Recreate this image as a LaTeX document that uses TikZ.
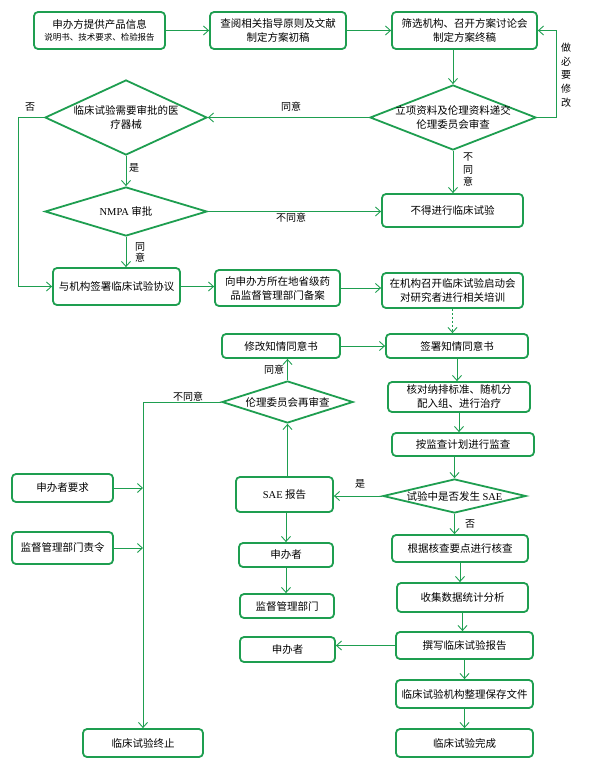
\documentclass[tikz,border=0pt]{standalone}
\usepackage{fontspec}
\setmainfont{Noto Sans CJK SC}
\newfontfamily\latin{Liberation Serif}
\usetikzlibrary{arrows.meta, shapes.geometric}
\definecolor{lgreen}{RGB}{30,158,80}

\begin{document}
\begin{tikzpicture}[x=1pt, y=-1pt,
	flowbox/.style={draw=lgreen, line width=1.8pt, rounded corners=4pt, fill=white, align=center, inner sep=0pt, font=\fontsize{10.5}{14}\selectfont},
	flowdia/.style={diamond, draw=lgreen, line width=1.8pt, fill=white, inner sep=0pt},
	diatext/.style={align=center, inner sep=0pt, font=\fontsize{10.5}{14}\selectfont},
	link/.style={draw=lgreen, line width=0.9pt, -{Straight Barb[length=5pt,width=9pt]}},
	note/.style={inner sep=0pt, align=center, font=\fontsize{10}{12}\selectfont}]
	\useasboundingbox (0,0) rectangle (589,768);

	\node[flowbox, minimum width=131pt, minimum height=37pt] (A) at (99.5,30.5) {申办方提供产品信息\\[-2pt]{\fontsize{8.5}{11}\selectfont 说明书、技术要求、检验报告}};
	\node[flowbox, minimum width=136pt, minimum height=37pt] (B) at (278,30.5) {查阅相关指导原则及文献\\制定方案初稿};
	\node[flowbox, minimum width=145pt, minimum height=37pt] (C) at (464.5,30.5) {筛选机构、召开方案讨论会\\制定方案终稿};
	\node[flowdia, minimum width=166pt, minimum height=65pt] (D) at (453,117.5) {};
	\node[diatext] (Dt) at (D) {立项资料及伦理资料递交\\伦理委员会审查};
	\node[flowdia, minimum width=162pt, minimum height=75pt] (E) at (126,117.5) {};
	\node[diatext] (Et) at (E) {临床试验需要审批的医\\疗器械};
	\node[flowdia, minimum width=162pt, minimum height=49pt] (NMPA) at (126,211.5) {};
	\node[diatext] (NMPAt) at (NMPA) {{\latin NMPA} 审批};
	\node[flowbox, minimum width=141pt, minimum height=33pt] (G) at (452.5,210.5) {不得进行临床试验};
	\node[flowbox, minimum width=127pt, minimum height=37pt] (F) at (116.5,286.5) {与机构签署临床试验协议};
	\node[flowbox, minimum width=125pt, minimum height=36pt] (H) at (277.5,288) {向申办方所在地省级药\\品监督管理部门备案};
	\node[flowbox, minimum width=141pt, minimum height=35pt] (I) at (452.5,290.5) {在机构召开临床试验启动会\\对研究者进行相关培训};
	\node[flowbox, minimum width=142pt, minimum height=24pt] (J) at (457,346) {签署知情同意书};
	\node[flowbox, minimum width=118pt, minimum height=24pt] (K) at (281,346) {修改知情同意书};
	\node[flowbox, minimum width=142pt, minimum height=30pt] (L) at (459,397) {核对纳排标准、随机分\\配入组、进行治疗};
	\node[flowbox, minimum width=142pt, minimum height=23pt] (M) at (463,444.5) {按监查计划进行监查};
	\node[flowdia, minimum width=143pt, minimum height=34pt] (N) at (454.5,496) {};
	\node[diatext] (Nt) at (N) {试验中是否发生 {\latin SAE}};
	\node[flowbox, minimum width=97pt, minimum height=35pt] (O) at (284.5,494.5) {{\latin SAE} 报告};
	\node[flowdia, minimum width=131pt, minimum height=42pt] (P) at (287.5,402) {};
	\node[diatext] (Pt) at (P) {伦理委员会再审查};
	\node[flowbox, minimum width=101pt, minimum height=28pt] (R) at (62.5,488) {申办者要求};
	\node[flowbox, minimum width=101pt, minimum height=32pt] (S) at (62.5,548) {监督管理部门责令};
	\node[flowbox, minimum width=94pt, minimum height=24pt] (T) at (286,555) {申办者};
	\node[flowbox, minimum width=94pt, minimum height=24pt] (U) at (287,606) {监督管理部门};
	\node[flowbox, minimum width=136pt, minimum height=27pt] (V) at (460,548.5) {根据核查要点进行核查};
	\node[flowbox, minimum width=131pt, minimum height=29pt] (W) at (462.5,597.5) {收集数据统计分析};
	\node[flowbox, minimum width=137pt, minimum height=27pt] (X) at (464.5,645.5) {撰写临床试验报告};
	\node[flowbox, minimum width=95pt, minimum height=25pt] (Y) at (287.5,649.5) {申办者};
	\node[flowbox, minimum width=137pt, minimum height=28pt] (Z) at (464.5,694) {临床试验机构整理保存文件};
	\node[flowbox, minimum width=137pt, minimum height=28pt] (AA) at (464.5,743) {临床试验完成};
	\node[flowbox, minimum width=120pt, minimum height=28pt] (Q) at (143,743) {临床试验终止};

	\draw[link] (A) -- (B);
	\draw[link] (B) -- (C);
	\draw[link] (D.north |- C.south) -- (D.north);
	\draw[link] (D.east) -- ++(20,0) |- (C.east);
	\draw[link] (D.west) -- (E.east);
	\draw[link] (E.west) -- ++(-26,0) |- (F.west);
	\draw[link] (E.south) -- (NMPA.north);
	\draw[link] (NMPA.east) -- (NMPA.east -| G.west);
	\draw[link] (D.south) -- (D.south |- G.north);
	\draw[link] (NMPA.south) -- (NMPA.south |- F.north);
	\draw[link] (F.east) -- (F.east -| H.west);
	\draw[link] (H.east) -- (H.east -| I.west);
	\draw[link, dash pattern=on 2pt off 2pt] (I.south) -- (I.south |- J.north);
	\draw[link] (K.east) -- (J.west);
	\draw[link] (J.south) -- (J.south |- L.north);
	\draw[link] (L.south) -- (L.south |- M.north);
	\draw[link] (N.north |- M.south) -- (N.north);
	\draw[link] (N.west) -- (N.west -| O.east);
	\draw[link] (P.south |- O.north) -- (P.south);
	\draw[link] (P.north) -- (P.north |- K.south);
	\draw[link] (P.west) -| (Q.north);
	\draw[link] (R.east) -- (R.east -| Q.north);
	\draw[link] (S.east) -- (S.east -| Q.north);
	\draw[link] (O.south -| T.north) -- (T.north);
	\draw[link] (T.south) -- (T.south |- U.north);
	\draw[link] (N.south) -- (N.south |- V.north);
	\draw[link] (V.south) -- (V.south |- W.north);
	\draw[link] (W.south) -- (W.south |- X.north);
	\draw[link] (X.west) -- (X.west -| Y.east);
	\draw[link] (X.south) -- (Z.north);
	\draw[link] (Z.south) -- (AA.north);

	\node[note] (no1) at (30,107) {否};
	\node[note] (yes1) at (291,107) {同意};
	\node[note, font=\fontsize{10}{13.7}\selectfont] (fix) at (566,75) {做\\必\\要\\修\\改};
	\node[note] (yes2) at (134,168) {是};
	\node[note] (no2) at (291,218) {不同意};
	\node[note, font=\fontsize{10}{12.5}\selectfont] (no3) at (468,170) {不\\同\\意};
	\node[note, font=\fontsize{10}{11}\selectfont] (yes3) at (140,252) {同\\意};
	\node[note] (yes4) at (274,370) {同意};
	\node[note] (no4) at (188,397) {不同意};
	\node[note] (yes5) at (360,484) {是};
	\node[note] (no5) at (470,524) {否};
\end{tikzpicture}
\end{document}
